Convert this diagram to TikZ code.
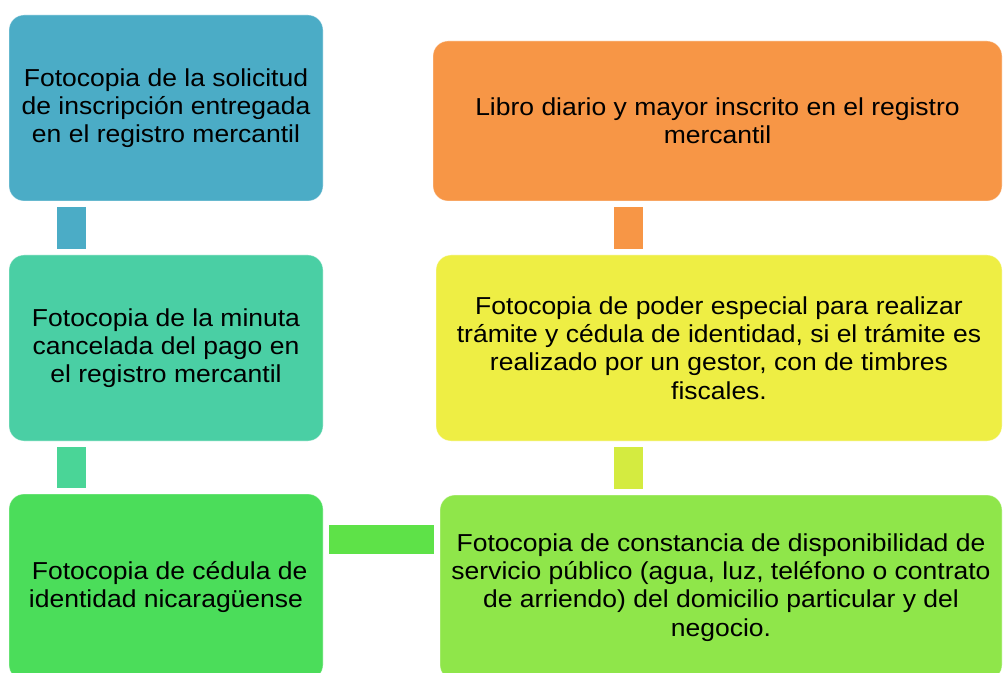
\documentclass[tikz,border=0pt]{standalone}
\usepackage{fontspec}
\setmainfont{Liberation Sans}[FakeStretch=1.08]
\definecolor{cblue}{HTML}{4BACC6}
\definecolor{cteal}{HTML}{4ACFA4}
\definecolor{ctealc}{HTML}{4AD597}
\definecolor{cgreen}{HTML}{4BDD5A}
\definecolor{cgreenc}{HTML}{5EE248}
\definecolor{clime}{HTML}{8FE64A}
\definecolor{climec}{HTML}{D4EB40}
\definecolor{cyellow}{HTML}{EEEE44}
\definecolor{corange}{HTML}{F79646}
\tikzset{
  box/.style={rounded corners=11.25pt, inner sep=0pt, outer sep=0pt,
    align=center, text=black, draw=white, draw opacity=0.45, line width=0.6pt,
    font=\fontsize{18.4}{21.2}\selectfont},
  conn/.style={line width=21.6pt, shorten <=4.5pt, shorten >=4.5pt},
}
\begin{document}
\begin{tikzpicture}[x=0.75pt,y=-0.75pt]
\useasboundingbox (0,0) rectangle (1003,673);
\clip (0,0) rectangle (1003,673);
\node[box, fill=cblue, minimum width=314*0.75pt, minimum height=186*0.75pt] (b1) at (166,108)
  {Fotocopia de la solicitud\\de inscripción entregada\\en el registro mercantil};
\node[box, fill=cteal, minimum width=314*0.75pt, minimum height=186*0.75pt] (b2) at (166,348)
  {Fotocopia de la minuta\\cancelada del pago en\\el registro mercantil};
\node[box, fill=cgreen, minimum width=314*0.75pt, minimum height=186*0.75pt] (b3) at (166,587)
  {\ Fotocopia de cédula de\\identidad nicaragüense};
\node[box, fill=corange, minimum width=569*0.75pt, minimum height=160*0.75pt] (b4) at (717.5,121)
  {Libro diario y mayor inscrito en el registro\\mercantil};
\node[box, fill=cyellow, minimum width=566*0.75pt, minimum height=186*0.75pt] (b5) at (719,348)
  {Fotocopia de poder especial para realizar\\trámite y cédula de identidad, si el trámite es\\realizado por un gestor, con de timbres\\fiscales.};
\node[box, fill=clime, minimum width=562*0.75pt, minimum height=185*0.75pt] (b6) at (721,587.5)
  {Fotocopia de constancia de disponibilidad de\\servicio público (agua, luz, teléfono o contrato\\de arriendo) del domicilio particular y del\\negocio.};
\coordinate (xl) at (71.5,0);
\coordinate (xr) at (628.5,0);
\coordinate (yh) at (0,539.3);
\draw[conn, cblue] (b1.south -| xl) -- (b2.north -| xl);
\draw[conn, ctealc] (b2.south -| xl) -- (b3.north -| xl);
\draw[conn, cgreenc] (b3.east |- yh) -- (b6.west |- yh);
\draw[conn, climec] (b6.north -| xr) -- (b5.south -| xr);
\draw[conn, corange] (b5.north -| xr) -- (b4.south -| xr);
\end{tikzpicture}
\end{document}
